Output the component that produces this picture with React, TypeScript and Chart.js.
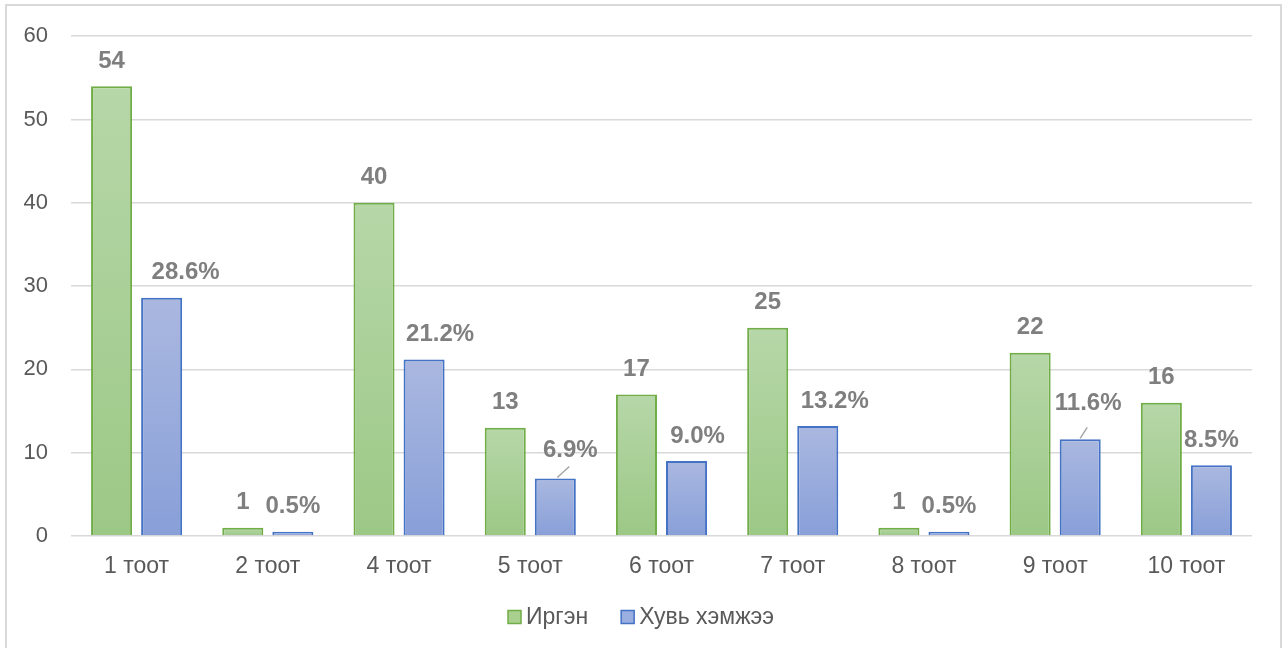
import React, { useEffect, useRef } from "react";
import { Chart, registerables } from "chart.js";

Chart.register(...registerables);

const categories = ["1 тоот", "2 тоот", "4 тоот", "5 тоот", "6 тоот", "7 тоот", "8 тоот", "9 тоот", "10 тоот"];
const citizens = [54, 1, 40, 13, 17, 25, 1, 22, 16];
const shares = [28.6, 0.5, 21.2, 6.9, 9.0, 13.2, 0.5, 11.6, 8.5];
const seriesNames = ["Иргэн", "Хувь хэмжээ"];
const yTicks = { min: 0, max: 60, step: 10 };

// label placement tweaks (style only)
const blueLabelDx = [24, 0, 16, 15, 11, 17, 0, 8, 0];
const blueLabelDy = [0, 0, 0, -3, 0, 0, 0, -11, 0];
const blueLeader = [null, null, null, [2, -1, 14, -12], null, null, null, [0, -1, 7, -12], null] as (number[] | null)[];

const FONT = "'Liberation Sans', Arial, sans-serif";
const GREEN = { top: "#b6d7a8", bottom: "#9cc886", border: "#70ad47", legend: "#a9d08e" };
const BLUE = { top: "#aab8e0", bottom: "#889fd8", border: "#4472c4", legend: "#9aaee0" };

const grad = (top: string, bottom: string) => (ctx: any) => {
  const chart = ctx.chart;
  const y = chart.scales && chart.scales.y;
  if (!y || ctx.type !== "data" || !chart.chartArea) return bottom;
  const yTop = y.getPixelForValue(ctx.raw);
  const yBase = y.getPixelForValue(0);
  if (!isFinite(yTop) || !isFinite(yBase) || yBase - yTop < 1) return top;
  const g = chart.ctx.createLinearGradient(0, yTop, 0, yBase);
  g.addColorStop(0, top);
  g.addColorStop(1, bottom);
  return g;
};

const labelPlugin = {
  id: "valueLabels",
  afterDatasetsDraw(chart: any) {
    const c = chart.ctx;
    c.save();
    c.font = `bold 24px ${FONT}`;
    c.fillStyle = "#7f7f7f";
    c.textAlign = "center";
    c.textBaseline = "middle";
    chart.data.datasets.forEach((ds: any, i: number) => {
      const meta = chart.getDatasetMeta(i);
      meta.data.forEach((el: any, j: number) => {
        const v = ds.data[j];
        const isBlue = i === 1;
        const text = isBlue ? `${v.toFixed(1)}%` : String(v);
        const dx = isBlue ? blueLabelDx[j] : 0;
        const dy = isBlue ? blueLabelDy[j] : 0;
        c.fillText(text, el.x + dx, el.y - 25 + dy);
        const ld = isBlue ? blueLeader[j] : null;
        if (ld) {
          c.strokeStyle = "#a6a6a6";
          c.lineWidth = 1.5;
          c.beginPath();
          c.moveTo(el.x + ld[0], el.y + ld[1]);
          c.lineTo(el.x + ld[2], el.y + ld[3]);
          c.stroke();
        }
      });
    });
    c.restore();
  },
};

const legendPlugin = {
  id: "customLegend",
  afterDraw(chart: any) {
    const c = chart.ctx;
    c.save();
    c.font = `23px ${FONT}`;
    c.textBaseline = "middle";
    const box = 13;
    const gapBoxText = 5;
    const gapItems = 33;
    const cols = [GREEN, BLUE];
    const widths = seriesNames.map((n) => box + gapBoxText + c.measureText(n).width);
    const total = widths.reduce((a, b) => a + b, 0) + gapItems * (seriesNames.length - 1);
    let x = chart.width / 2 - total / 2;
    const y = 617;
    seriesNames.forEach((n, i) => {
      c.fillStyle = cols[i].legend;
      c.fillRect(x, y - box / 2, box, box);
      c.strokeStyle = cols[i].border;
      c.lineWidth = 1.5;
      c.strokeRect(x, y - box / 2, box, box);
      c.fillStyle = "#595959";
      c.textAlign = "left";
      c.fillText(n, x + box + gapBoxText, y + 1);
      x += widths[i] + gapItems;
    });
    c.restore();
  },
};

export default function App() {
  const ref = useRef<HTMLCanvasElement | null>(null);
  useEffect(() => {
    if (!ref.current) return;
    const chart = new Chart(ref.current, {
      type: "bar",
      data: {
        labels: categories,
        datasets: [
          {
            label: seriesNames[0],
            data: citizens,
            backgroundColor: grad(GREEN.top, GREEN.bottom),
            borderColor: GREEN.border,
            borderWidth: 2,
            barPercentage: 0.82,
            categoryPercentage: 0.763,
          },
          {
            label: seriesNames[1],
            data: shares,
            backgroundColor: grad(BLUE.top, BLUE.bottom),
            borderColor: BLUE.border,
            borderWidth: 2,
            barPercentage: 0.82,
            categoryPercentage: 0.763,
          },
        ],
      },
      options: {
        responsive: false,
        animation: false,
        layout: { padding: { top: 33, right: 30, bottom: 0, left: 0 } },
        plugins: { legend: { display: false }, tooltip: { enabled: false } },
        scales: {
          x: {
            grid: { display: false, drawTicks: false },
            border: { display: false },
            ticks: { color: "#595959", font: { family: FONT, size: 23 }, padding: 17, maxRotation: 0 },
            afterFit: (s: any) => { s.height = 112; },
          },
          y: {
            min: yTicks.min,
            max: yTicks.max,
            grid: { color: "#d9d9d9", lineWidth: 1.5, drawTicks: false },
            border: { display: false },
            ticks: { stepSize: yTicks.step, color: "#595959", font: { family: FONT, size: 22 }, padding: 23 },
            afterFit: (s: any) => { s.width = 71; },
          },
        },
      },
      plugins: [labelPlugin, legendPlugin],
    });
    return () => chart.destroy();
  }, []);
  return (
    <div style={{ position: "fixed", left: 0, top: 0, width: 1282, height: 648, background: "#fff", overflow: "hidden" }}>
      <div style={{ position: "absolute", left: 5, top: 4, width: 1277, height: 700, boxSizing: "border-box", border: "2px solid #d9d9d9" }} />
      <canvas ref={ref} width={1282} height={648} style={{ position: "absolute", left: 0, top: 0 }} />
    </div>
  );
}
